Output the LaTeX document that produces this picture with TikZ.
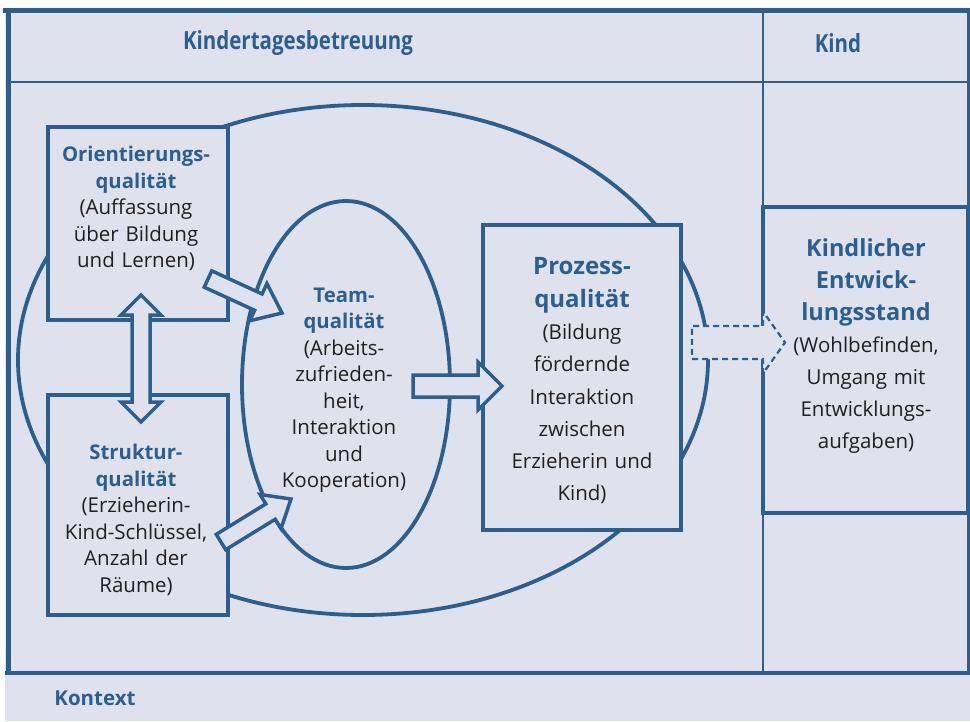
\documentclass[tikz,border=0pt]{standalone}
\usepackage{fontspec}
\setmainfont{Open Sans}
\newfontfamily\condfont[FakeStretch=0.82]{Open Sans}
\usetikzlibrary{calc}
\definecolor{bg}{HTML}{DFE2EC}
\definecolor{dblue}{HTML}{2B5F8F}
\definecolor{txt}{HTML}{231F20}
\tikzset{
  qbox/.style={draw=dblue, line width=4.5pt, fill=bg, inner sep=0pt},
  qtext/.style={align=center, text=txt, inner sep=0pt, font=\fontsize{20.5}{26.5}\selectfont},
  barrow/.style={draw=dblue, line width=3.5pt, fill=bg, line join=miter},
  darrow/.style={draw=dblue, line width=2.2pt, fill=bg, dash pattern=on 6pt off 4pt},
  ring/.style={draw=dblue, line width=3.8pt},
  headtext/.style={text=dblue, font=\condfont\bfseries\fontsize{25}{28}\selectfont},
}
\newcommand\tfont{\color{dblue}\bfseries\fontsize{20.3}{26.5}\selectfont}
\newcommand\blockarrow[6][]{%
  \path let \p1=(#2), \p2=(#3),
    \n1={atan2(\y2-\y1,\x2-\x1)}, \n2={veclen(\x2-\x1,\y2-\y1)} in
    \pgfextra{\xdef\baang{\n1}\xdef\balen{\n2}};
  \draw[barrow,#1,shift={(#2)},rotate=\baang]
    (0,#4) -- (\balen-#6,#4) -- (\balen-#6,#5) -- (\balen,0)
    -- (\balen-#6,-#5) -- (\balen-#6,-#4) -- (0,-#4) -- cycle;}
\begin{document}
\begin{tikzpicture}[x=1pt,y=-1pt]
\useasboundingbox (0,0) rectangle (970,721);
\fill[white] (0,0) rectangle (970,721);
\fill[bg] (5,8) rectangle (970,721);
% frame
\draw[dblue, line width=1.2pt] (8,82) -- (968,82);
\draw[dblue, line width=1.2pt] (763,8) -- (763,673);
\draw[dblue, line width=5pt] (3,10.5) -- (970,10.5);
\draw[dblue, line width=5pt] (8.5,8) -- (8.5,675);
\draw[dblue, line width=3pt] (968.5,8) -- (968.5,675);
\draw[dblue, line width=4pt] (5,673) -- (970,673);
\node[headtext] (hkita) at (298,43) {Kindertagesbetreuung};
\node[headtext] (hkind) at (838,43) {Kind};
\node[text=dblue, font=\bfseries\fontsize{20.5}{24}\selectfont] (hkontext) at (95,698) {Kontext};
% ellipses
\draw[ring] (363,360) ellipse [x radius=345, y radius=255];
\draw[ring] (346,384.5) ellipse [x radius=104, y radius=183.5];
% boxes
\node[qbox, minimum width=180pt, minimum height=193pt] (ori) at (138,223.5) {};
\node[qbox, minimum width=180pt, minimum height=220pt] (str) at (138,505) {};
\node[qbox, minimum width=198pt, minimum height=305pt] (pro) at (582,377.5) {};
\node[qbox, minimum width=205pt, minimum height=306pt] (kid) at (865.5,360) {};
% texts
\node[qtext, text width=180pt] (oritxt) at (136,208.5)
  {{\tfont Orientierungs-\\qualität}\\(Auffassung\\über Bildung\\und Lernen)};
\node[qtext, text width=180pt] (strtxt) at (136,520)
  {{\tfont Struktur-\\qualität}\\(Erzieherin-\\Kind-Schlüssel,\\Anzahl der\\Räume)};
\node[qtext, text width=180pt] (teamtxt) at (344,390)
  {{\tfont Team-\\qualität}\\(Arbeits-\\zufrieden-\\heit,\\Interaktion\\und\\Kooperation)};
\node[qtext, text width=196pt, font=\fontsize{20.5}{32.3}\selectfont] (protxt) at (582,381)
  {{\color{dblue}\bfseries\fontsize{24}{32.3}\selectfont Prozess-\\qualität}\\(Bildung\\fördernde\\Interaktion\\zwischen\\Erzieherin und\\Kind)};
\node[qtext, text width=200pt, font=\fontsize{20.5}{32}\selectfont] (kidtxt) at (866,346.5)
  {{\color{dblue}\bfseries\fontsize{23.5}{32}\selectfont Kindlicher\\Entwick-\\lungsstand}\\(Wohlbefinden,\\Umgang mit\\Entwicklungs-\\aufgaben)};
% arrow end points
\coordinate (a1s) at (208,279);  \coordinate (a1e) at (282,313);
\coordinate (a2s) at (221,542);  \coordinate (a2e) at (291,499);
\coordinate (a3s) at (413,386);  \coordinate (a3e) at (502,386);
\coordinate (a4s) at (692,342.5);\coordinate (a4e) at (785,342.5);
\coordinate (dbt) at (141,295);  \coordinate (dbb) at (141,422);
% double arrow between ori and str
\draw[barrow] (dbt) -- ++(20,20) -- ++(-11,0) -- ++(0,87) -- ++(11,0)
  -- (dbb) -- ++(-20,-20) -- ++(11,0) -- ++(0,-87) -- ++(-11,0) -- cycle;
\blockarrow{a1s}{a1e}{9}{20.5}{26}
\blockarrow{a2s}{a2e}{9}{20}{24}
\blockarrow{a3s}{a3e}{11}{24}{24}
\blockarrow[darrow]{a4s}{a4e}{16.5}{31}{22}
\end{tikzpicture}
\end{document}
